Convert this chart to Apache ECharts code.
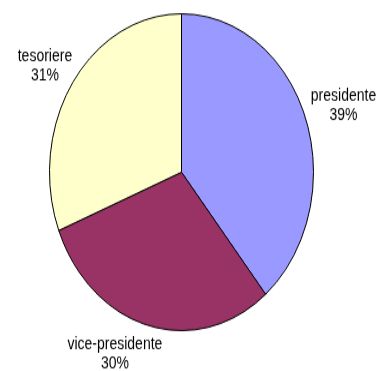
<!DOCTYPE html>
<html lang="it">
<head>
	<meta charset="UTF-8">
	<title>Cariche</title>
	<script src="https://cdn.jsdelivr.net/npm/echarts@6/dist/echarts.min.js"></script>
	<style type="text/css">
		html, body {
			margin: 0;
			padding: 0;
			background: #ffffff;
			overflow: hidden;
		}
		#wrap {
			position: relative;
			width: 378px;
			height: 371px;
		}
		/* the source picture is stretched 1.2x vertically, so is this one */
		#main {
			position: absolute;
			left: 0;
			top: 0;
			width: 378px;
			height: 309px;
			transform: scaleY(1.2);
			transform-origin: 0 0;
		}
	</style>
</head>
<body>
	<div id="wrap"><div id="main"></div></div>
	<script type="text/javascript">
		var categories = ['presidente', 'vice-presidente', 'tesoriere'];
		var values = [39, 30, 31];
		var colors = ['#9999ff', '#993366', '#ffffcc'];

		var PIE_X = 181.5;
		var PIE_Y = 143.5;
		var LABEL_GAP = 136;
		// small nudges so the labels sit where the original put them
		var labelNudge = [[0, 3], [-26, -7], [2, 6]];

		var seriesData = [];
		for (var i = 0; i < categories.length; i++) {
			seriesData.push({
				name: categories[i],
				value: values[i],
				itemStyle: { color: colors[i] }
			});
		}

		var chart = echarts.init(document.getElementById('main'));

		var option = {
			animation: false,
			series: [
				{
					type: 'pie',
					center: [PIE_X, PIE_Y],
					radius: [0, 132],
					startAngle: 90,
					clockwise: true,
					silent: true,
					itemStyle: {
						borderColor: '#000000',
						borderWidth: 1
					},
					label: {
						show: true,
						position: 'inside',
						formatter: '{b}\n{d}%',
						color: '#000000',
						fontFamily: '"Liberation Sans", Arial, sans-serif',
						fontSize: 14,
						lineHeight: 16,
						align: 'center'
					},
					labelLine: { show: false },
					labelLayout: function (p) {
						var r = p.labelRect;
						var cx = r.x + r.width / 2;
						var cy = r.y + r.height / 2;
						var vx = cx - PIE_X, vy = cy - PIE_Y;
						var len = Math.sqrt(vx * vx + vy * vy) || 1;
						var ux = vx / len, uy = vy / len;
						var push = LABEL_GAP + Math.abs(ux) * r.width / 2 + Math.abs(uy) * r.height / 2;
						var n = labelNudge[p.dataIndex];
						return {
							x: PIE_X + ux * push + n[0],
							y: PIE_Y + uy * push + n[1],
							align: 'center',
							verticalAlign: 'middle'
						};
					},
					data: seriesData
				}
			]
		};

		chart.setOption(option);
	</script>
</body>
</html>
